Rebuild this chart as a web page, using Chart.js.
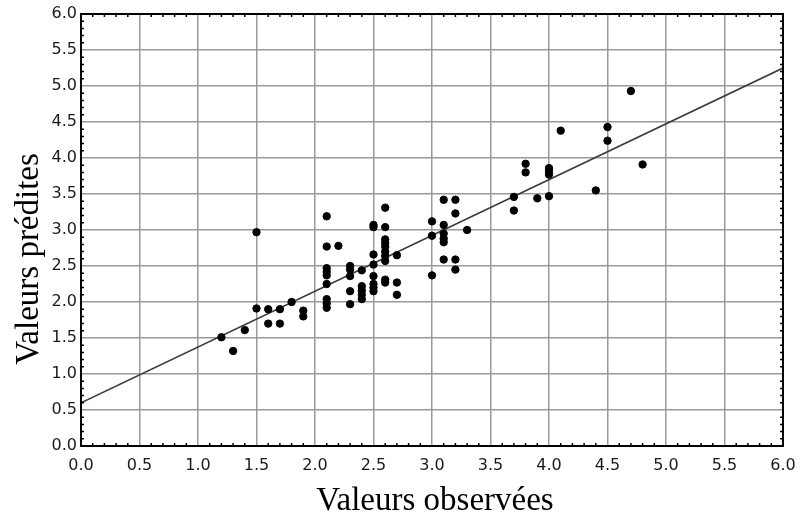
<!DOCTYPE html>
<html>
<head>
<meta charset="utf-8">
<script src="https://cdn.jsdelivr.net/npm/chart.js@4/dist/chart.umd.min.js"></script>
<style>
  body { margin: 0; background: #fff; }
</style>
</head>
<body>
<canvas id="scatter" width="800" height="518"></canvas>
<script>
let obsX = [
    1.2, 1.3, 1.4, 1.5, 1.5, 1.6, 1.6, 1.7, 1.7, 1.8, 1.9, 1.9,
    2.1, 2.1, 2.1, 2.1, 2.1, 2.1, 2.1, 2.1, 2.1, 2.2,
    2.3, 2.3, 2.3, 2.3, 2.3,
    2.4, 2.4, 2.4, 2.4, 2.4,
    2.5, 2.5, 2.5, 2.5, 2.5, 2.5, 2.5, 2.5,
    2.6, 2.6, 2.6, 2.6, 2.6, 2.6, 2.6, 2.6, 2.6, 2.6,
    2.7, 2.7, 2.7,
    3.0, 3.0, 3.0,
    3.1, 3.1, 3.1, 3.1, 3.1, 3.1,
    3.2, 3.2, 3.2, 3.2, 3.3,
    3.7, 3.7, 3.8, 3.8, 3.9,
    4.0, 4.0, 4.0, 4.0, 4.1, 4.4, 4.5, 4.5, 4.7, 4.8
]
let predY = [
    1.51, 1.32, 1.61, 2.97, 1.91, 1.90, 1.70, 1.90, 1.70, 2.00, 1.88, 1.80,
    3.19, 2.77, 2.47, 2.42, 2.37, 2.25, 2.04, 1.98, 1.92, 2.78,
    2.50, 2.45, 2.36, 2.15, 1.97,
    2.44, 2.22, 2.16, 2.10, 2.04,
    3.07, 3.04, 2.66, 2.52, 2.36, 2.25, 2.20, 2.15,
    3.31, 3.04, 2.87, 2.82, 2.77, 2.70, 2.64, 2.57, 2.31, 2.27,
    2.65, 2.27, 2.10,
    3.12, 2.92, 2.37,
    3.42, 3.07, 2.95, 2.88, 2.83, 2.59,
    3.42, 3.23, 2.59, 2.45, 3.00,
    3.46, 3.27, 3.92, 3.80, 3.44,
    3.86, 3.82, 3.77, 3.47, 4.38, 3.55, 4.43, 4.24, 4.93, 3.91
]
// droite de regression
let lineX = [0, 6]
let lineY = [0.6, 5.25]

let xTitle = 'Valeurs observées'
let yTitle = 'Valeurs prédites'

let points = []
obsX.forEach(function(v, i) {
    points.push({ x: v, y: predY[i] })
})
let fit = lineX.map(function(v, i) { return { x: v, y: lineY[i] } })

// cadre noir + petites graduations vers l'interieur
const frame = {
    id: 'frame',
    afterDraw(chart) {
        const { ctx, chartArea: a, scales: { x, y } } = chart
        ctx.save()
        ctx.strokeStyle = '#000'
        ctx.lineWidth = 1.5
        ctx.beginPath()
        for (let i = 1; i < 60; i++) {
            if (i % 5 === 0) continue
            const px = x.getPixelForValue(i / 10)
            const py = y.getPixelForValue(i / 10)
            ctx.moveTo(px, a.bottom); ctx.lineTo(px, a.bottom - 3)
            ctx.moveTo(px, a.top); ctx.lineTo(px, a.top + 3)
            ctx.moveTo(a.left, py); ctx.lineTo(a.left + 3, py)
            ctx.moveTo(a.right, py); ctx.lineTo(a.right - 3, py)
        }
        ctx.stroke()
        ctx.lineWidth = 2
        ctx.strokeRect(a.left, a.top, a.right - a.left, a.bottom - a.top)

        // titres des axes (le titre vertical est centre sur la hauteur du canvas)
        ctx.fillStyle = '#000'
        ctx.font = '33px "Liberation Serif"'
        ctx.textAlign = 'center'
        ctx.textBaseline = 'alphabetic'
        ctx.fillText(xTitle, (a.left + a.right) / 2 + 3, 510)
        ctx.translate(38, chart.height / 2)
        ctx.rotate(-Math.PI / 2)
        ctx.fillText(yTitle, 0, 0)
        ctx.restore()
    }
}

const tickFont = { family: 'DejaVu Sans', size: 16 }

new Chart(document.getElementById('scatter'), {
    type: 'scatter',
    data: {
        datasets: [{
            data: points,
            backgroundColor: '#000',
            borderColor: '#000',
            pointRadius: 3.7,
            pointHoverRadius: 3.7
        }, {
            data: fit,
            showLine: true,
            borderColor: '#3a3a3a',
            borderWidth: 1.6,
            pointRadius: 0
        }]
    },
    options: {
        responsive: false,
        animation: false,
        layout: { padding: { top: 14, right: 17, left: 0, bottom: 0 } },
        plugins: {
            legend: { display: false },
            tooltip: { enabled: false }
        },
        scales: {
            x: {
                type: 'linear',
                min: 0,
                max: 6,
                afterFit: function(s) {
                    s.height = 72
                    s.paddingLeft = 0
                    s.paddingRight = 0
                },
                ticks: {
                    stepSize: 0.5,
                    padding: 10,
                    color: '#1a1a1a',
                    font: tickFont,
                    maxRotation: 0,
                    callback: function(v) { return v.toFixed(1) }
                },
                grid: { color: '#9a9a9a', lineWidth: 1.5, drawTicks: false },
                border: { color: '#000', width: 2 }
            },
            y: {
                type: 'linear',
                min: 0,
                max: 6,
                afterFit: function(s) {
                    s.width = 81
                    s.paddingTop = 0
                    s.paddingBottom = 0
                },
                ticks: {
                    stepSize: 0.5,
                    padding: 4,
                    color: '#1a1a1a',
                    font: tickFont,
                    callback: function(v) { return v.toFixed(1) }
                },
                grid: { color: '#9a9a9a', lineWidth: 1.5, drawTicks: false },
                border: { color: '#000', width: 2 }
            }
        }
    },
    plugins: [frame]
});
</script>
</body>
</html>
